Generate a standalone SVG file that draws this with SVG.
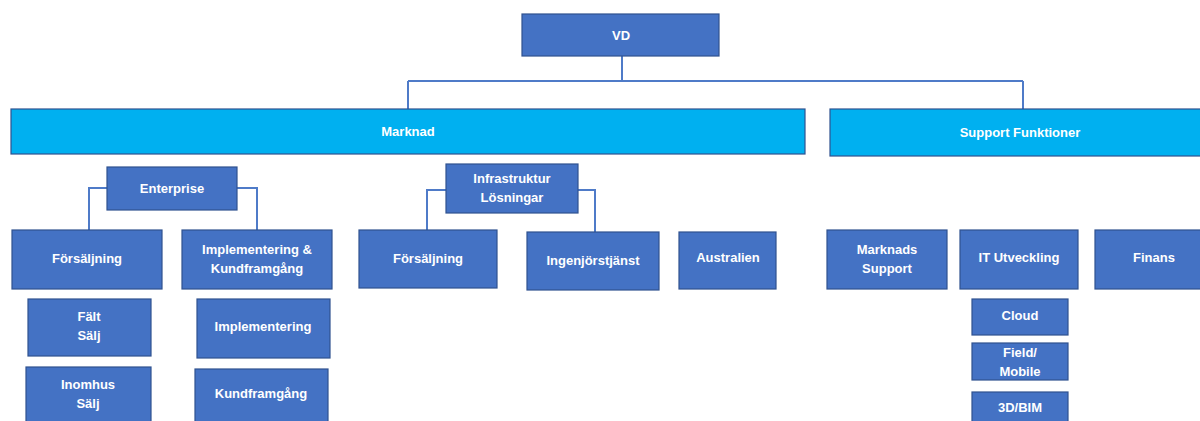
<svg xmlns="http://www.w3.org/2000/svg" width="1200" height="421" viewBox="0 0 1200 421">
<style>
.b{fill:#4472C4;stroke:#2F528F;stroke-width:1.2}
.c{fill:#00B0F0;stroke:#2F528F;stroke-width:1.2}
.t{font-family:"Liberation Sans",Arial,sans-serif;font-weight:bold;font-size:13px;fill:#fff;text-anchor:middle}
.ln{fill:none;stroke:#4F7BC8;stroke-width:2}
</style>
<rect width="1200" height="421" fill="#fff"/>
<g id="connectors">
<path class="ln" d="M622 56V81M408 81H1023M408 81V110M1023 81V110"/>
<path class="ln" d="M107 188H89V230M237 188H257V230"/>
<path class="ln" d="M447 190H427V230M578 190H595V232"/>
</g>
<g id="vd"><rect class="b" x="522" y="14" width="197" height="42"/><text class="t" x="621" y="40">VD</text></g>
<g id="marknad"><rect class="c" x="11" y="109" width="794" height="45"/><text class="t" x="408" y="136">Marknad</text></g>
<g id="support"><rect class="c" x="830" y="109" width="380" height="47"/><text class="t" x="1020" y="137">Support Funktioner</text></g>
<g id="enterprise"><rect class="b" x="107" y="167" width="130" height="43"/><text class="t" x="172" y="193">Enterprise</text></g>
<g id="infra"><rect class="b" x="446" y="164" width="132" height="49"/><text class="t" x="512" y="183">Infrastruktur</text><text class="t" x="512" y="202">Lösningar</text></g>
<g id="forsaljning1"><rect class="b" x="12" y="230" width="150" height="59"/><text class="t" x="87" y="263">Försäljning</text></g>
<g id="impl-kund"><rect class="b" x="182" y="230" width="150" height="59"/><text class="t" x="257" y="254">Implementering &amp;</text><text class="t" x="257" y="273">Kundframgång</text></g>
<g id="forsaljning2"><rect class="b" x="359" y="230" width="138" height="58"/><text class="t" x="428" y="263">Försäljning</text></g>
<g id="ingenjor"><rect class="b" x="527" y="232" width="132" height="58"/><text class="t" x="593" y="265">Ingenjörstjänst</text></g>
<g id="australien"><rect class="b" x="679" y="232" width="97" height="57"/><text class="t" x="728" y="262">Australien</text></g>
<g id="marknads-support"><rect class="b" x="827" y="230" width="120" height="59"/><text class="t" x="887" y="254">Marknads</text><text class="t" x="887" y="273">Support</text></g>
<g id="it"><rect class="b" x="960" y="230" width="118" height="59"/><text class="t" x="1019" y="262">IT Utveckling</text></g>
<g id="finans"><rect class="b" x="1095" y="230" width="115" height="59"/><text class="t" x="1154" y="262">Finans</text></g>
<g id="falt"><rect class="b" x="28" y="299" width="123" height="57"/><text class="t" x="89" y="321">Fält</text><text class="t" x="89" y="340">Sälj</text></g>
<g id="inomhus"><rect class="b" x="26" y="367" width="125" height="60"/><text class="t" x="88" y="389">Inomhus</text><text class="t" x="88" y="408">Sälj</text></g>
<g id="implementering"><rect class="b" x="197" y="299" width="133" height="59"/><text class="t" x="263" y="331">Implementering</text></g>
<g id="kundframgang"><rect class="b" x="195" y="369" width="133" height="58"/><text class="t" x="261" y="398">Kundframgång</text></g>
<g id="cloud"><rect class="b" x="972" y="299" width="96" height="36"/><text class="t" x="1020" y="320">Cloud</text></g>
<g id="field"><rect class="b" x="972" y="343" width="96" height="37"/><text class="t" x="1020" y="357">Field/</text><text class="t" x="1020" y="376">Mobile</text></g>
<g id="bim"><rect class="b" x="972" y="392" width="96" height="35"/><text class="t" x="1020" y="412">3D/BIM</text></g>
</svg>
